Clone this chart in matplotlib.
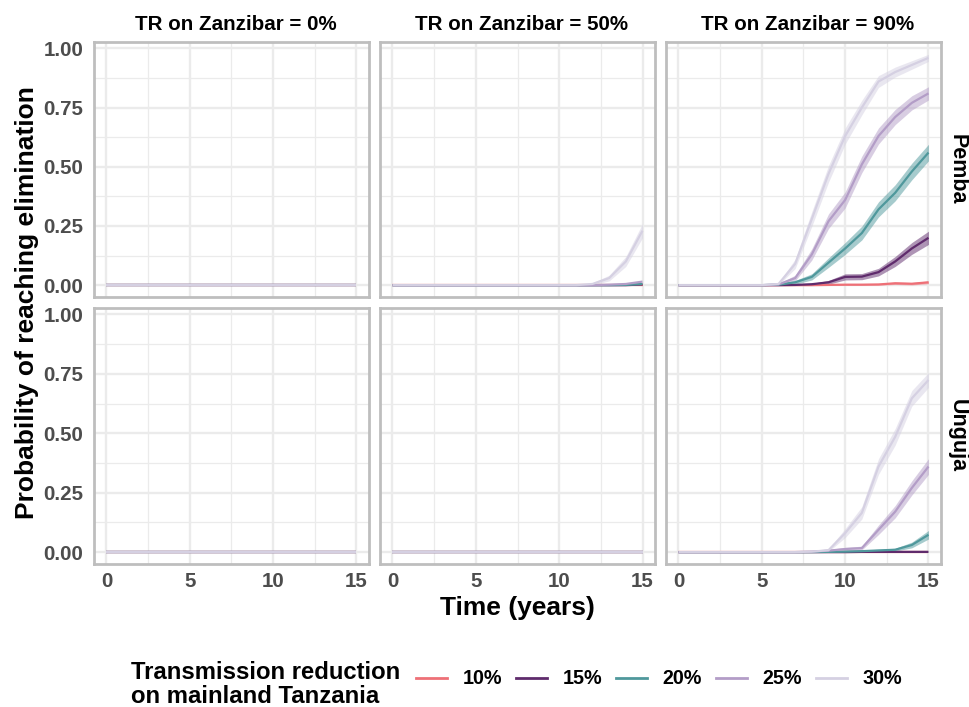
import matplotlib
matplotlib.use("Agg")
import matplotlib.pyplot as plt
from matplotlib.lines import Line2D

plt.rcParams["font.family"] = ["Liberation Sans", "DejaVu Sans"]
plt.rcParams["font.weight"] = "bold"

# ---- data ----
years = [0, 1, 2, 3, 4, 5, 6, 7, 8, 9, 10, 11, 12, 13, 14, 15]
reductions = ["10%", "15%", "20%", "25%", "30%"]
col_titles = ["TR on Zanzibar = 0%", "TR on Zanzibar = 50%", "TR on Zanzibar = 90%"]
row_titles = ["Pemba", "Unguja"]
line_colors = ["#EE7077", "#5F2B6C", "#4F989C", "#B39DC7", "#D5D0E2"]

no_elim = [0, 0, 0, 0, 0, 0, 0, 0, 0, 0, 0, 0, 0, 0, 0, 0]

# Pemba, TR on Zanzibar = 50%
pemba50_r15 = [0, 0, 0, 0, 0, 0, 0, 0, 0, 0, 0, 0, 0, 0, 0, 0.003]
pemba50_r20 = [0, 0, 0, 0, 0, 0, 0, 0, 0, 0, 0, 0, 0, 0, 0.001, 0.005]
pemba50_r25 = [0, 0, 0, 0, 0, 0, 0, 0, 0, 0, 0, 0, 0, 0.002, 0.005, 0.015]
pemba50_r30 = [0, 0, 0, 0, 0, 0, 0, 0, 0, 0, 0, 0, 0.005, 0.03, 0.10, 0.23]
pemba50_r30_ci = [0, 0, 0, 0, 0, 0, 0, 0, 0, 0, 0, 0, 0.005, 0.012, 0.021, 0.03]

# Pemba, TR on Zanzibar = 90%
pemba90_r10 = [0, 0, 0, 0, 0, 0, 0, 0, 0, 0.001, 0.002, 0.002, 0.003, 0.008, 0.006, 0.012]
pemba90_r15 = [0, 0, 0, 0, 0, 0, 0, 0.001, 0.004, 0.012, 0.035, 0.036, 0.055, 0.10, 0.155, 0.20]
pemba90_r20 = [0, 0, 0, 0, 0, 0, 0.002, 0.012, 0.035, 0.095, 0.155, 0.22, 0.32, 0.39, 0.48, 0.56]
pemba90_r25 = [0, 0, 0, 0, 0, 0, 0.003, 0.03, 0.13, 0.27, 0.36, 0.51, 0.63, 0.71, 0.77, 0.81]
pemba90_r30 = [0, 0, 0, 0, 0, 0, 0.005, 0.09, 0.28, 0.47, 0.63, 0.75, 0.86, 0.90, 0.93, 0.96]
pemba90_r10_ci = [0, 0, 0, 0, 0, 0, 0, 0, 0, 0.001, 0.002, 0.002, 0.003, 0.005, 0.005, 0.006]
pemba90_r15_ci = [0, 0, 0, 0, 0, 0, 0, 0.001, 0.004, 0.008, 0.013, 0.013, 0.016, 0.021, 0.025, 0.028]
pemba90_r20_ci = [0, 0, 0, 0, 0, 0, 0.003, 0.008, 0.013, 0.02, 0.025, 0.029, 0.032, 0.034, 0.035, 0.035]
pemba90_r25_ci = [0, 0, 0, 0, 0, 0, 0.004, 0.012, 0.024, 0.031, 0.034, 0.035, 0.034, 0.032, 0.03, 0.028]
pemba90_r30_ci = [0, 0, 0, 0, 0, 0, 0.005, 0.02, 0.031, 0.035, 0.034, 0.031, 0.025, 0.021, 0.018, 0.015]

# Unguja, TR on Zanzibar = 90%
unguja90_r15 = [0, 0, 0, 0, 0, 0, 0, 0, 0, 0, 0, 0.001, 0.001, 0.001, 0.001, 0.001]
unguja90_r20 = [0, 0, 0, 0, 0, 0, 0, 0, 0, 0.001, 0.002, 0.004, 0.007, 0.01, 0.03, 0.073]
unguja90_r25 = [0, 0, 0, 0, 0, 0, 0, 0, 0.002, 0.006, 0.013, 0.017, 0.094, 0.17, 0.27, 0.36]
unguja90_r30 = [0, 0, 0, 0, 0, 0, 0, 0, 0.002, 0.008, 0.08, 0.165, 0.36, 0.485, 0.647, 0.724]
unguja90_r20_ci = [0, 0, 0, 0, 0, 0, 0, 0, 0, 0.001, 0.002, 0.004, 0.005, 0.006, 0.012, 0.018]
unguja90_r25_ci = [0, 0, 0, 0, 0, 0, 0, 0, 0.002, 0.005, 0.007, 0.008, 0.02, 0.026, 0.03, 0.033]
unguja90_r30_ci = [0, 0, 0, 0, 0, 0, 0, 0, 0.002, 0.006, 0.019, 0.026, 0.033, 0.035, 0.033, 0.031]

# (mean, ci half width) per reduction level, for each panel [row][col]
panels = [
    [
        [(no_elim, no_elim)] * 5,
        [(no_elim, no_elim), (pemba50_r15, no_elim), (pemba50_r20, no_elim),
         (pemba50_r25, no_elim), (pemba50_r30, pemba50_r30_ci)],
        [(pemba90_r10, pemba90_r10_ci), (pemba90_r15, pemba90_r15_ci),
         (pemba90_r20, pemba90_r20_ci), (pemba90_r25, pemba90_r25_ci),
         (pemba90_r30, pemba90_r30_ci)],
    ],
    [
        [(no_elim, no_elim)] * 5,
        [(no_elim, no_elim)] * 5,
        [(no_elim, no_elim), (unguja90_r15, no_elim), (unguja90_r20, unguja90_r20_ci),
         (unguja90_r25, unguja90_r25_ci), (unguja90_r30, unguja90_r30_ci)],
    ],
]

# ---- layout (pixels) ----
W, H = 970, 707
col_x = [(94, 369), (380, 655), (666, 941)]
row_y = [(42, 297), (308, 564)]


def px_rect(x0, x1, y0, y1):
    return [x0 / W, 1 - y1 / H, (x1 - x0) / W, (y1 - y0) / H]


fig = plt.figure(figsize=(W / 100, H / 100), dpi=100)
tick_color = "#4D4D4D"
grid_color = "#EBEBEB"

for r in range(2):
    for c in range(3):
        ax = fig.add_axes(px_rect(*col_x[c], *row_y[r]))
        for k, (mean, half) in enumerate(panels[r][c]):
            lo = [max(m - h, 0) for m, h in zip(mean, half)]
            hi = [m + h for m, h in zip(mean, half)]
            ax.fill_between(years, lo, hi, color=line_colors[k], alpha=0.5, lw=0)
            ax.plot(years, mean, color=line_colors[k], lw=1.6, solid_capstyle="butt")
        ax.set_xlim(-0.75, 15.75)
        ax.set_ylim(-0.05, 1.027)
        ax.set_xticks([0, 5, 10, 15])
        ax.set_xticks([2.5, 7.5, 12.5], minor=True)
        ax.set_yticks([0, 0.25, 0.5, 0.75, 1.0])
        ax.set_yticks([0.125, 0.375, 0.625, 0.875], minor=True)
        ax.grid(which="major", color=grid_color, lw=1.7)
        ax.grid(which="minor", color=grid_color, lw=0.9)
        ax.set_axisbelow(True)
        ax.tick_params(which="both", length=0, labelsize=14.8, labelcolor=tick_color)
        ax.tick_params(axis="y", pad=7.5)
        ax.tick_params(axis="x", pad=6)
        ax.set_yticklabels(["0.00", "0.25", "0.50", "0.75", "1.00"], fontweight="bold")
        ax.set_xticklabels(["0", "5", "10", "15"], fontweight="bold")
        if c > 0:
            ax.tick_params(axis="y", labelleft=False)
        if r == 0:
            ax.tick_params(axis="x", labelbottom=False)
        for s in ax.spines.values():
            s.set_color("#BEBEBE")
            s.set_linewidth(2)

# strip titles
for c in range(3):
    fig.text(((col_x[c][0] + col_x[c][1]) / 2 + 4) / W, 1 - 29.5 / H, col_titles[c],
             ha="center", va="baseline", fontsize=14.8, fontweight="bold")
for r in range(2):
    fig.text(957 / W, 1 - (row_y[r][0] + row_y[r][1]) / 2 / H, row_titles[r],
             ha="center", va="center", rotation=270, fontsize=15.5, fontweight="bold")

# axis titles
fig.text(517.5 / W, 1 - 615 / H, "Time (years)", ha="center", va="baseline",
         fontsize=19, fontweight="bold")
fig.text(27 / W, 1 - 303 / H, "Probability of reaching elimination", ha="center",
         va="center", rotation=90, fontsize=19, fontweight="bold")

# legend
fig.text(131 / W, 1 - 679 / H, "Transmission reduction", ha="left", va="baseline",
         fontsize=17.2, fontweight="bold")
fig.text(131 / W, 1 - 703 / H, "on mainland Tanzania", ha="left", va="baseline",
         fontsize=17.2, fontweight="bold")
handles = [Line2D([], [], color=col, lw=2) for col in line_colors]
fig.legend(handles, reductions, loc="center left", bbox_to_anchor=(416 / W, 1 - 679 / H),
           ncol=5, frameon=False, prop={"weight": "bold", "size": 14.2},
           handlelength=1.55, handletextpad=0.8, columnspacing=0.72,
           borderpad=0, borderaxespad=0)

fig.savefig("out.png", dpi=100)
